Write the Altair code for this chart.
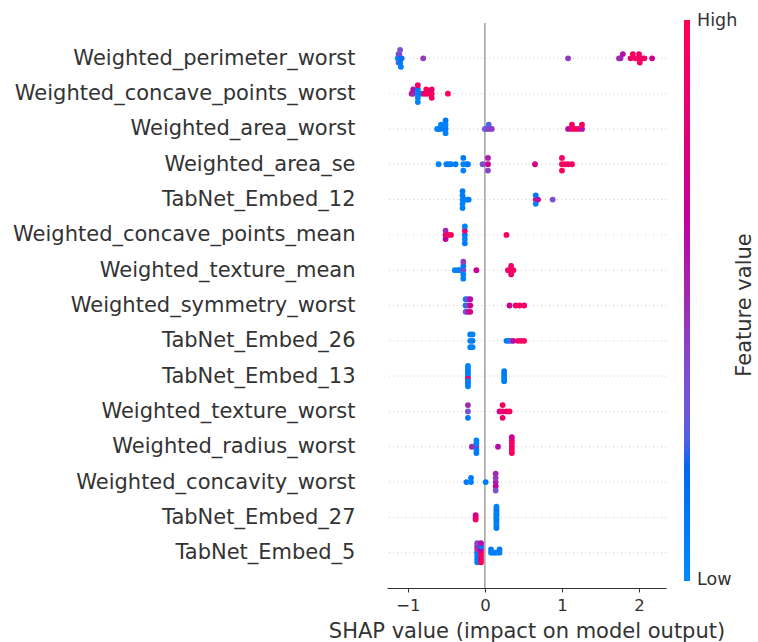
import altair as alt
import numpy as np
import pandas as pd

# Feature names, top to bottom
features = [
    "Weighted_perimeter_worst",
    "Weighted_concave_points_worst",
    "Weighted_area_worst",
    "Weighted_area_se",
    "TabNet_Embed_12",
    "Weighted_concave_points_mean",
    "Weighted_texture_mean",
    "Weighted_symmetry_worst",
    "TabNet_Embed_26",
    "TabNet_Embed_13",
    "Weighted_texture_worst",
    "Weighted_radius_worst",
    "Weighted_concavity_worst",
    "TabNet_Embed_27",
    "TabNet_Embed_5",
]

# SHAP values (x) and normalised feature values (colour) per feature
perimeter_worst_shap = [-1.13, -1.12, -1.12, -1.11, -1.11, -1.10, -1.10, -1.09, -1.08, -0.80, 1.08,
                        1.74, 1.76, 1.79, 1.89, 1.92, 1.95, 1.98, 2.00, 2.00, 2.01, 2.04, 2.07, 2.17]
perimeter_worst_fv = [0.05, 0.1, 0.3, 0.05, 0.4, 0.1, 0.35, 0.05, 0.15, 0.45, 0.45,
                      0.5, 0.5, 0.6, 0.85, 0.95, 0.9, 1.0, 0.95, 0.9, 0.95, 0.85, 0.9, 0.7]

concave_points_worst_shap = [-0.95, -0.93, -0.93, -0.87, -0.87, -0.87, -0.87, -0.87, -0.82, -0.79,
                             -0.76, -0.76, -0.73, -0.69, -0.69, -0.69, -0.48]
concave_points_worst_fv = [0.7, 0.5, 0.6, 0.05, 0.1, 0.05, 0.9, 0.05, 0.1, 0.85,
                           0.9, 0.95, 0.9, 0.95, 0.85, 0.9, 0.95]

area_worst_shap = [-0.62, -0.60, -0.57, -0.57, -0.52, -0.51, -0.51, -0.51, -0.51, 0.0, 0.02, 0.05, 0.05, 0.09,
                   1.08, 1.13, 1.13, 1.17, 1.21, 1.26, 1.26]
area_worst_fv = [0.05, 0.05, 0.1, 0.05, 0.05, 0.1, 0.05, 0.05, 0.1, 0.3, 0.35, 0.4, 0.25, 0.45,
                 0.6, 0.9, 0.95, 0.95, 0.9, 0.6, 0.95]

area_se_shap = [-0.60, -0.50, -0.47, -0.44, -0.38, -0.28, -0.28, -0.28, -0.24, -0.22, -0.03,
                0.04, 0.04, 0.04, 0.65, 1.0, 1.0, 1.0, 1.04, 1.08, 1.13]
area_se_fv = [0.05, 0.05, 0.1, 0.05, 0.1, 0.05, 0.1, 0.05, 0.05, 0.1, 0.35,
              0.7, 0.55, 0.4, 0.75, 0.95, 0.9, 1.0, 0.95, 0.9, 0.95]

embed12_shap = [-0.29, -0.29, -0.29, -0.29, -0.29, -0.25, -0.23, -0.21, 0.66, 0.66, 0.66, 0.69, 0.88]
embed12_fv = [0.05, 0.1, 0.05, 0.1, 0.05, 0.1, 0.05, 0.1, 0.9, 0.1, 0.05, 0.6, 0.35]

concave_points_mean_shap = [-0.51, -0.51, -0.51, -0.48, -0.44, -0.26, -0.26, -0.26, -0.26, -0.26, 0.28]
concave_points_mean_fv = [0.95, 0.5, 0.65, 0.9, 0.95, 0.1, 0.9, 0.05, 0.05, 0.1, 0.95]

texture_mean_shap = [-0.39, -0.35, -0.33, -0.28, -0.28, -0.28, -0.28, -0.28, -0.11, 0.30, 0.34, 0.34, 0.34, 0.37]
texture_mean_fv = [0.05, 0.1, 0.05, 0.4, 0.1, 0.05, 0.45, 0.05, 0.7, 0.9, 0.95, 0.85, 0.9, 0.95]

symmetry_worst_shap = [-0.25, -0.25, -0.25, -0.22, -0.22, -0.22, -0.19, -0.19, -0.19, 0.32, 0.40, 0.45, 0.51]
symmetry_worst_fv = [0.1, 0.05, 0.3, 0.35, 0.4, 0.55, 0.7, 0.6, 0.75, 0.7, 0.9, 0.95, 0.9]

embed26_shap = [-0.19, -0.19, -0.19, -0.16, -0.16, -0.16, 0.28, 0.31, 0.34, 0.37, 0.43, 0.47, 0.51]
embed26_fv = [0.05, 0.1, 0.05, 0.1, 0.05, 0.05, 0.1, 0.05, 0.3, 0.6, 0.95, 0.9, 0.95]

embed13_shap = [-0.22, -0.22, -0.22, -0.22, -0.22, -0.22, -0.22, -0.22, -0.22, 0.25, 0.25, 0.25, 0.25, 0.25]
embed13_fv = [0.05, 0.05, 0.9, 0.1, 0.05, 0.05, 0.1, 0.05, 0.05, 0.05, 0.1, 0.05, 0.1, 0.05]

texture_worst_shap = [-0.22, -0.22, -0.22, 0.19, 0.23, 0.23, 0.23, 0.28, 0.32]
texture_worst_fv = [0.35, 0.5, 0.1, 0.7, 0.9, 0.95, 0.9, 0.85, 0.95]

radius_worst_shap = [-0.17, -0.11, -0.11, -0.11, -0.11, -0.11, 0.17, 0.35, 0.35, 0.35, 0.35, 0.35, 0.35]
radius_worst_fv = [0.5, 0.45, 0.05, 0.1, 0.05, 0.1, 0.6, 0.95, 0.9, 0.95, 0.9, 0.95, 0.7]

concavity_worst_shap = [-0.24, -0.18, -0.18, 0.01, 0.14, 0.14, 0.14, 0.14, 0.14]
concavity_worst_fv = [0.1, 0.05, 0.1, 0.1, 0.55, 0.45, 0.65, 0.5, 0.35]

embed27_shap = [-0.12, -0.12, -0.12, 0.15, 0.15, 0.15, 0.15, 0.15, 0.15, 0.15, 0.15, 0.15, 0.15, 0.15]
embed27_fv = [0.95, 0.7, 0.9, 0.05, 0.1, 0.05, 0.05, 0.1, 0.05, 0.05, 0.1, 0.05, 0.05, 0.1]

embed5_shap = [-0.10, -0.10, -0.10, -0.10, -0.10, -0.10, -0.10, -0.05, -0.05, -0.05, -0.05, -0.05, -0.05, -0.05,
               0.08, 0.08, 0.11, 0.14, 0.19, 0.19]
embed5_fv = [0.1, 0.45, 0.05, 0.5, 0.1, 0.4, 0.05, 0.9, 0.65, 0.95, 0.1, 0.85, 0.6, 0.95,
             0.05, 0.1, 0.05, 0.1, 0.05, 0.1]

shap_lists = [perimeter_worst_shap, concave_points_worst_shap, area_worst_shap, area_se_shap,
              embed12_shap, concave_points_mean_shap, texture_mean_shap, symmetry_worst_shap,
              embed26_shap, embed13_shap, texture_worst_shap, radius_worst_shap,
              concavity_worst_shap, embed27_shap, embed5_shap]
fv_lists = [perimeter_worst_fv, concave_points_worst_fv, area_worst_fv, area_se_fv,
            embed12_fv, concave_points_mean_fv, texture_mean_fv, symmetry_worst_fv,
            embed26_fv, embed13_fv, texture_worst_fv, radius_worst_fv,
            concavity_worst_fv, embed27_fv, embed5_fv]

# colour bar texts
cbar_high_label = "High"
cbar_low_label = "Low"
cbar_title_text = "Feature value"


def swarm_offsets(vals, nbins=100, row_height=0.4):
    """SHAP-style beeswarm vertical offsets."""
    v = np.asarray(vals, dtype=float)
    quant = np.round(nbins * (v - v.min()) / (v.max() - v.min() + 1e-8))
    inds = np.argsort(quant, kind="stable")
    layer, last = 0, None
    ys = np.zeros(len(v))
    for i in inds:
        if quant[i] != last:
            layer = 0
        ys[i] = np.ceil(layer / 2) * ((layer % 2) * 2 - 1)
        layer += 1
        last = quant[i]
    ys *= 0.9 * (row_height / np.max(ys + 1))
    return ys


n = len(features)
records = []
for i, (name, sv, fv) in enumerate(zip(features, shap_lists, fv_lists)):
    pos = n - 1 - i
    offs = swarm_offsets(sv)
    for s, f, o in zip(sv, fv, offs):
        records.append({"feature": name, "shap": s, "fv": f, "ypos": pos + o})
points_df = pd.DataFrame(records)
rows_df = pd.DataFrame({"pos": list(range(n))})
zero_df = pd.DataFrame({"x": [0]})

labels_by_pos = features[::-1]
label_expr = "[" + ",".join("'%s'" % s for s in labels_by_pos) + "][datum.value]"

FONT = "DejaVu Sans"
TXT = "#333333"

# colour bar geometry (pixels, relative to plot area)
CBAR_X = 297
CBAR_TOP = -3
CBAR_LEN = 561

x_scale = alt.Scale(domain=[-1.27, 2.35], nice=False, zero=False)
y_scale = alt.Scale(domain=[-1, n], nice=False, zero=False)

x_axis = alt.Axis(values=[-1, 0, 1, 2], format="d", grid=False, tickSize=4, tickColor=TXT,
                  domainColor=TXT, labelFontSize=16.5, labelColor=TXT, labelFont=FONT, labelPadding=5,
                  title="SHAP value (impact on model output)", titleFontSize=21, titleFont=FONT,
                  titleColor=TXT, titleFontWeight="normal", titleBaseline="alphabetic", titleY=49)
y_axis = alt.Axis(values=list(range(n)), labelExpr=label_expr, grid=False, ticks=False, domain=False,
                  labelFontSize=21, labelColor=TXT, labelFont=FONT, labelPadding=32, labelLimit=500,
                  title=None)

color_scale = alt.Scale(
    domain=[0, 0.2, 0.3, 0.41, 0.5, 0.62, 0.8, 1],
    range=["#008bfb", "#0068ef", "#6a5ad8", "#8a44c8", "#a02aaf", "#b800a8", "#e00078", "#ff0052"],
)

lines = alt.Chart(rows_df).mark_rule(color="#cccccc", strokeWidth=1, strokeDash=[1, 3]).encode(
    y=alt.Y("pos:Q", scale=y_scale, axis=y_axis)
)

zero = alt.Chart(zero_df).mark_rule(color="#999999", strokeWidth=1.4).encode(
    x=alt.X("x:Q", scale=x_scale, axis=x_axis)
)

dots = alt.Chart(points_df).mark_circle(size=34, opacity=1).encode(
    x=alt.X("shap:Q", scale=x_scale, axis=x_axis),
    y=alt.Y("ypos:Q", scale=y_scale, axis=y_axis),
    color=alt.Color(
        "fv:Q",
        scale=color_scale,
        legend=alt.Legend(
            orient="none", legendX=CBAR_X, legendY=CBAR_TOP, direction="vertical",
            gradientLength=CBAR_LEN, gradientThickness=6, gradientStrokeWidth=0,
            values=[0, 1], labelExpr="''", labelOpacity=0, title=None,
        ),
    ),
)


def side_text(txt, x, y, **kw):
    return alt.Chart(pd.DataFrame({"t": [txt]})).mark_text(color=TXT, font=FONT, **kw).encode(
        x=alt.value(x), y=alt.value(y), text="t:N"
    )


high_lab = side_text(cbar_high_label, CBAR_X + 13, CBAR_TOP + 1, align="left", baseline="middle", fontSize=17.5)
low_lab = side_text(cbar_low_label, CBAR_X + 13, CBAR_TOP + CBAR_LEN - 1, align="left", baseline="middle",
                    fontSize=17.5)
cbar_title = side_text(cbar_title_text, 358, 282, angle=270, fontSize=21)

chart = alt.layer(lines, zero, dots, high_lab, low_lab, cbar_title).properties(
    width=279, height=565,
    autosize=alt.AutoSizeParams(type="none"),
    padding={"left": 387, "top": 23, "right": 92, "bottom": 54},
    background="white",
).configure_view(strokeWidth=0)

chart.save("out.html", embed_options={"renderer": "svg", "actions": False})
